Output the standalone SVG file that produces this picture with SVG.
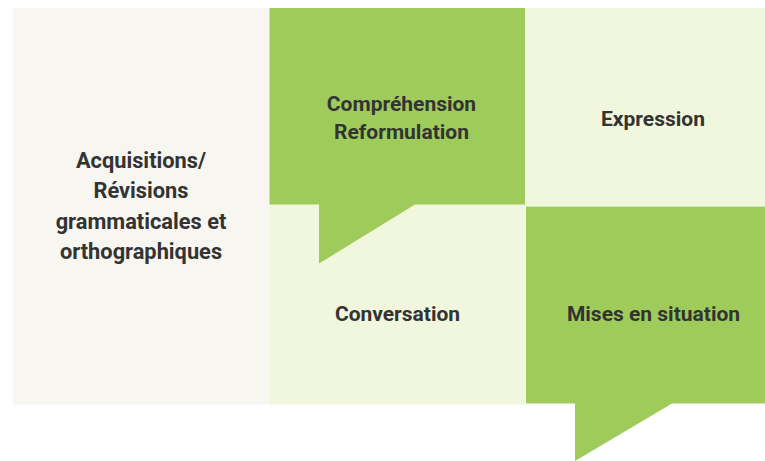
<svg xmlns="http://www.w3.org/2000/svg" width="765" height="461" viewBox="0 0 765 461">
<style>
.t{font-family:Roboto,"Liberation Sans",sans-serif;font-weight:bold;font-size:21px;fill:#333333;text-anchor:middle}
.big{font-size:21.8px}
.g{fill:#9fcb5b}
.l{fill:#f1f7dd}
.b{fill:#f7f6f1}
</style>
<rect width="765" height="461" fill="#ffffff"/>
<g id="acquisitions">
<rect class="b" x="13" y="8" width="256.5" height="396.5"/>
<text class="t big" x="141" y="168">Acquisitions/</text>
<text class="t big" x="141" y="198">Révisions</text>
<text class="t big" x="141" y="229">grammaticales et</text>
<text class="t big" x="141" y="259">orthographiques</text>
</g>
<g id="conversation">
<rect class="l" x="269.5" y="204" width="256" height="200.5"/>
<text class="t" x="397.5" y="321">Conversation</text>
</g>
<g id="expression">
<rect class="l" x="525" y="8" width="240" height="197.5"/>
<text class="t" x="653" y="126">Expression</text>
</g>
<g id="comprehension">
<path class="g" d="M269.5 8H525V204.5H415L319 263.5V204.5H269.5Z"/>
<text class="t" x="401.5" y="111">Compréhension</text>
<text class="t" x="401.5" y="139">Reformulation</text>
</g>
<g id="mises">
<path class="g" d="M526 206.5H765V403.5H672L575 461V403.5H526Z"/>
<text class="t" x="653.5" y="321">Mises en situation</text>
</g>
<g id="connectors"></g>
</svg>
